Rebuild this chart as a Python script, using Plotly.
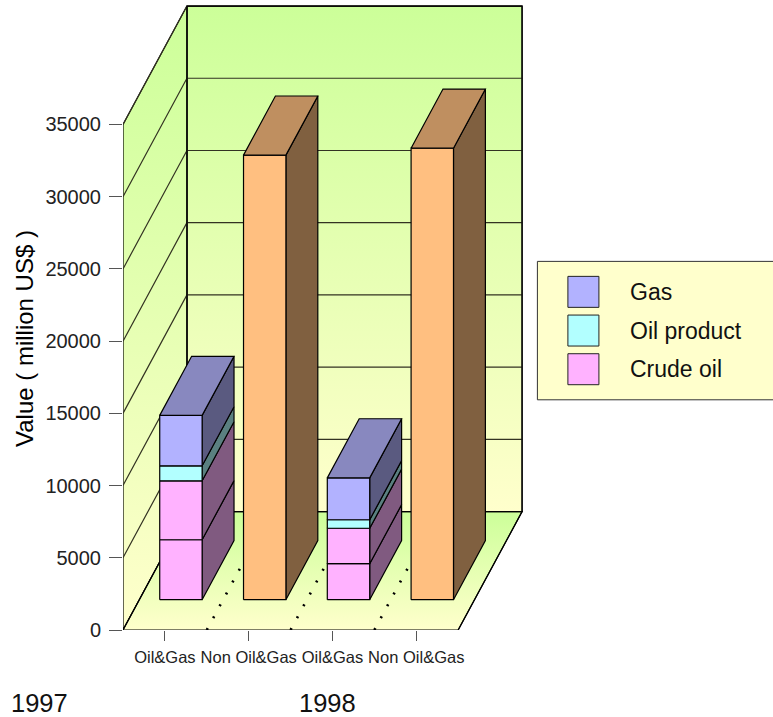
import plotly.graph_objects as go

# ---- data ----
categories = ["Oil&Gas", "Non Oil&Gas", "Oil&Gas", "Non Oil&Gas"]
years = ["1997", "1998"]
crude_oil_a = [4150, 0, 2490, 0]
crude_oil_b = [4080, 0, 2455, 0]
oil_product = [1040, 0, 590, 0]
gas = [3490, 0, 2900, 0]
non_oil_gas = [0, 30780, 0, 31260]
y_ticks = [0, 5000, 10000, 15000, 20000, 25000, 30000, 35000]
legend_names = ["Gas", "Oil product", "Crude oil"]
y_title = "Value ( million US$ )"

# ---- layout geometry ----
W, H = 773, 717
LEFT, BOTTOM = 123.3, 630.3
CAT_PX = 83.75
VAL_PX = 72.25 / 5000
DX, DY = 63.9, 118.5
BAR_L, BAR_W = 0.243, 0.506
D0, D1 = 0.256, 0.755
WALL_TOP = 35000

C_GAS = ("#B2B2FF", "#5A5A80", "#8888BF")
C_OIL = ("#B2FFFF", "#5A8080", "#88BFBF")
C_CRUDE = ("#FFB2FF", "#805A80", "#BF88BF")
C_NON = ("#FFBF80", "#806040", "#BF8F60")
GREEN, PALE = "#CCFF99", "#FFFFCC"


def proj(cat, val, depth):
    return cat + depth * DX / CAT_PX, val + depth * DY / VAL_PX


def poly(points, fill=None, line="#000000", width=1.2, gradient=None, dash=None, close=True):
    pts = [proj(*p) if p is not None else (None, None) for p in points]
    if close:
        pts = pts + [pts[0]]
    kw = {}
    if gradient:
        kw["fill"] = "toself"
        kw["fillgradient"] = dict(type="vertical", start=gradient[0], stop=gradient[1],
                                  colorscale=[[0, gradient[2]], [1, gradient[3]]])
    elif fill:
        kw["fill"] = "toself"
        kw["fillcolor"] = fill
    return go.Scatter(x=[p[0] for p in pts], y=[p[1] for p in pts], mode="lines",
                      line=dict(color=line, width=width, dash=dash), hoverinfo="skip",
                      showlegend=False, **kw)


n = len(categories)
fig = go.Figure()
y_floor_back = DY / VAL_PX
y_top = y_floor_back + WALL_TOP

# walls and floor
fig.add_trace(poly([(0, 0, 1), (n, 0, 1), (n, WALL_TOP, 1), (0, WALL_TOP, 1)],
                   gradient=(y_top, y_floor_back, GREEN, PALE)))
fig.add_trace(poly([(0, 0, 0), (0, 0, 1), (0, WALL_TOP, 1), (0, WALL_TOP, 0)],
                   gradient=(y_top, 0, GREEN, PALE)))
fig.add_trace(poly([(0, 0, 0), (n, 0, 0), (n, 0, 1), (0, 0, 1)],
                   gradient=(y_floor_back, 0, GREEN, PALE)))

# grid lines on the walls
grid = []
for v in y_ticks[1:]:
    grid += [(0, v, 0), (0, v, 1), (n, v, 1), None]
fig.add_trace(poly(grid, line="#333322", close=False))
fig.add_trace(poly([(0, 0, 0), (0, 0, 1), (0, WALL_TOP, 1), None,
                    (0, WALL_TOP, 1), (n, WALL_TOP, 1), (n, 0, 1), None,
                    (0, 0, 1), (n, 0, 1), (n, 0, 0)], close=False))

# dotted category separators on the floor
for i in range(1, n):
    fig.add_trace(poly([(i, 0, 0), (i, 0, 1)], width=2.6, dash="2px,11.5px", close=False))

# bars
for i in range(n):
    stack = [(crude_oil_a[i], C_CRUDE), (crude_oil_b[i], C_CRUDE),
             (oil_product[i], C_OIL), (gas[i], C_GAS), (non_oil_gas[i], C_NON)]
    x0, x1 = i + BAR_L, i + BAR_L + BAR_W
    base = 0
    last = None
    for val, col in stack:
        if val == 0:
            continue
        t = base + val
        fig.add_trace(poly([(x1, base, D0), (x1, base, D1), (x1, t, D1), (x1, t, D0)], fill=col[1]))
        fig.add_trace(poly([(x0, base, D0), (x1, base, D0), (x1, t, D0), (x0, t, D0)], fill=col[0]))
        base, last = t, col
    fig.add_trace(poly([(x0, base, D0), (x1, base, D0), (x1, base, D1), (x0, base, D1)], fill=last[2]))


def px(x):
    return (x - LEFT) / (W - LEFT)


def py(y):
    return (BOTTOM - y) / BOTTOM


font = "Liberation Sans, Arial, sans-serif"
ink = "#111111"
shapes = [dict(type="rect", xref="paper", yref="paper", x0=px(537.5), x1=px(780), y0=py(261.5), y1=py(400),
               fillcolor=PALE, line=dict(color="#333333", width=1))]
annotations = []
for k, (name, col) in enumerate(zip(legend_names, [C_GAS, C_OIL, C_CRUDE])):
    yc = 292 + k * 38.7
    shapes.append(dict(type="rect", xref="paper", yref="paper", x0=px(568), x1=px(599),
                       y0=py(yc - 15.5), y1=py(yc + 15.5), fillcolor=col[0],
                       line=dict(color="#222222", width=1)))
    annotations.append(dict(xref="paper", yref="paper", x=px(629), y=py(yc), text=name, showarrow=False,
                            xanchor="left", yanchor="middle", xshift=-1,
                            font=dict(family=font, size=23, color=ink)))
for txt, xp in zip(years, [10, 298]):
    annotations.append(dict(xref="paper", yref="paper", x=px(xp), y=py(703), text=txt, showarrow=False,
                            xanchor="left", yanchor="middle", xshift=-1,
                            font=dict(family=font, size=25.5, color=ink)))
annotations.append(dict(xref="paper", yref="paper", x=px(25), y=py(338.5), text=y_title, showarrow=False,
                        textangle=-90, xanchor="center", yanchor="middle",
                        font=dict(family=font, size=24, color="#000000")))

fig.update_layout(
    width=W, height=H, autosize=False, showlegend=False,
    margin=dict(l=LEFT, r=0, t=0, b=H - BOTTOM, pad=0),
    paper_bgcolor="white", plot_bgcolor="white",
    xaxis=dict(range=[0, (W - LEFT) / CAT_PX], tickmode="array",
               tickvals=[i + 0.5 for i in range(n)], ticktext=categories, tickangle=0,
               ticks="outside", ticklen=10, tickcolor="#555555", tickwidth=1.3,
               showgrid=False, zeroline=False, showline=False, ticklabelstandoff=2,
               tickfont=dict(family=font, size=16.5, color="#222222")),
    yaxis=dict(range=[0, BOTTOM / VAL_PX], tickmode="array", tickvals=y_ticks,
               ticktext=[str(v) for v in y_ticks],
               ticks="outside", ticklen=13, tickcolor="#555555", tickwidth=1.3,
               showgrid=False, zeroline=False, showline=False, ticklabelstandoff=4,
               tickfont=dict(family=font, size=20, color="#222222")),
    shapes=shapes, annotations=annotations,
)
fig.write_html("out.html", config=dict(displayModeBar=False),
               post_script="document.body.style.margin='0';document.body.style.overflow='hidden';")
